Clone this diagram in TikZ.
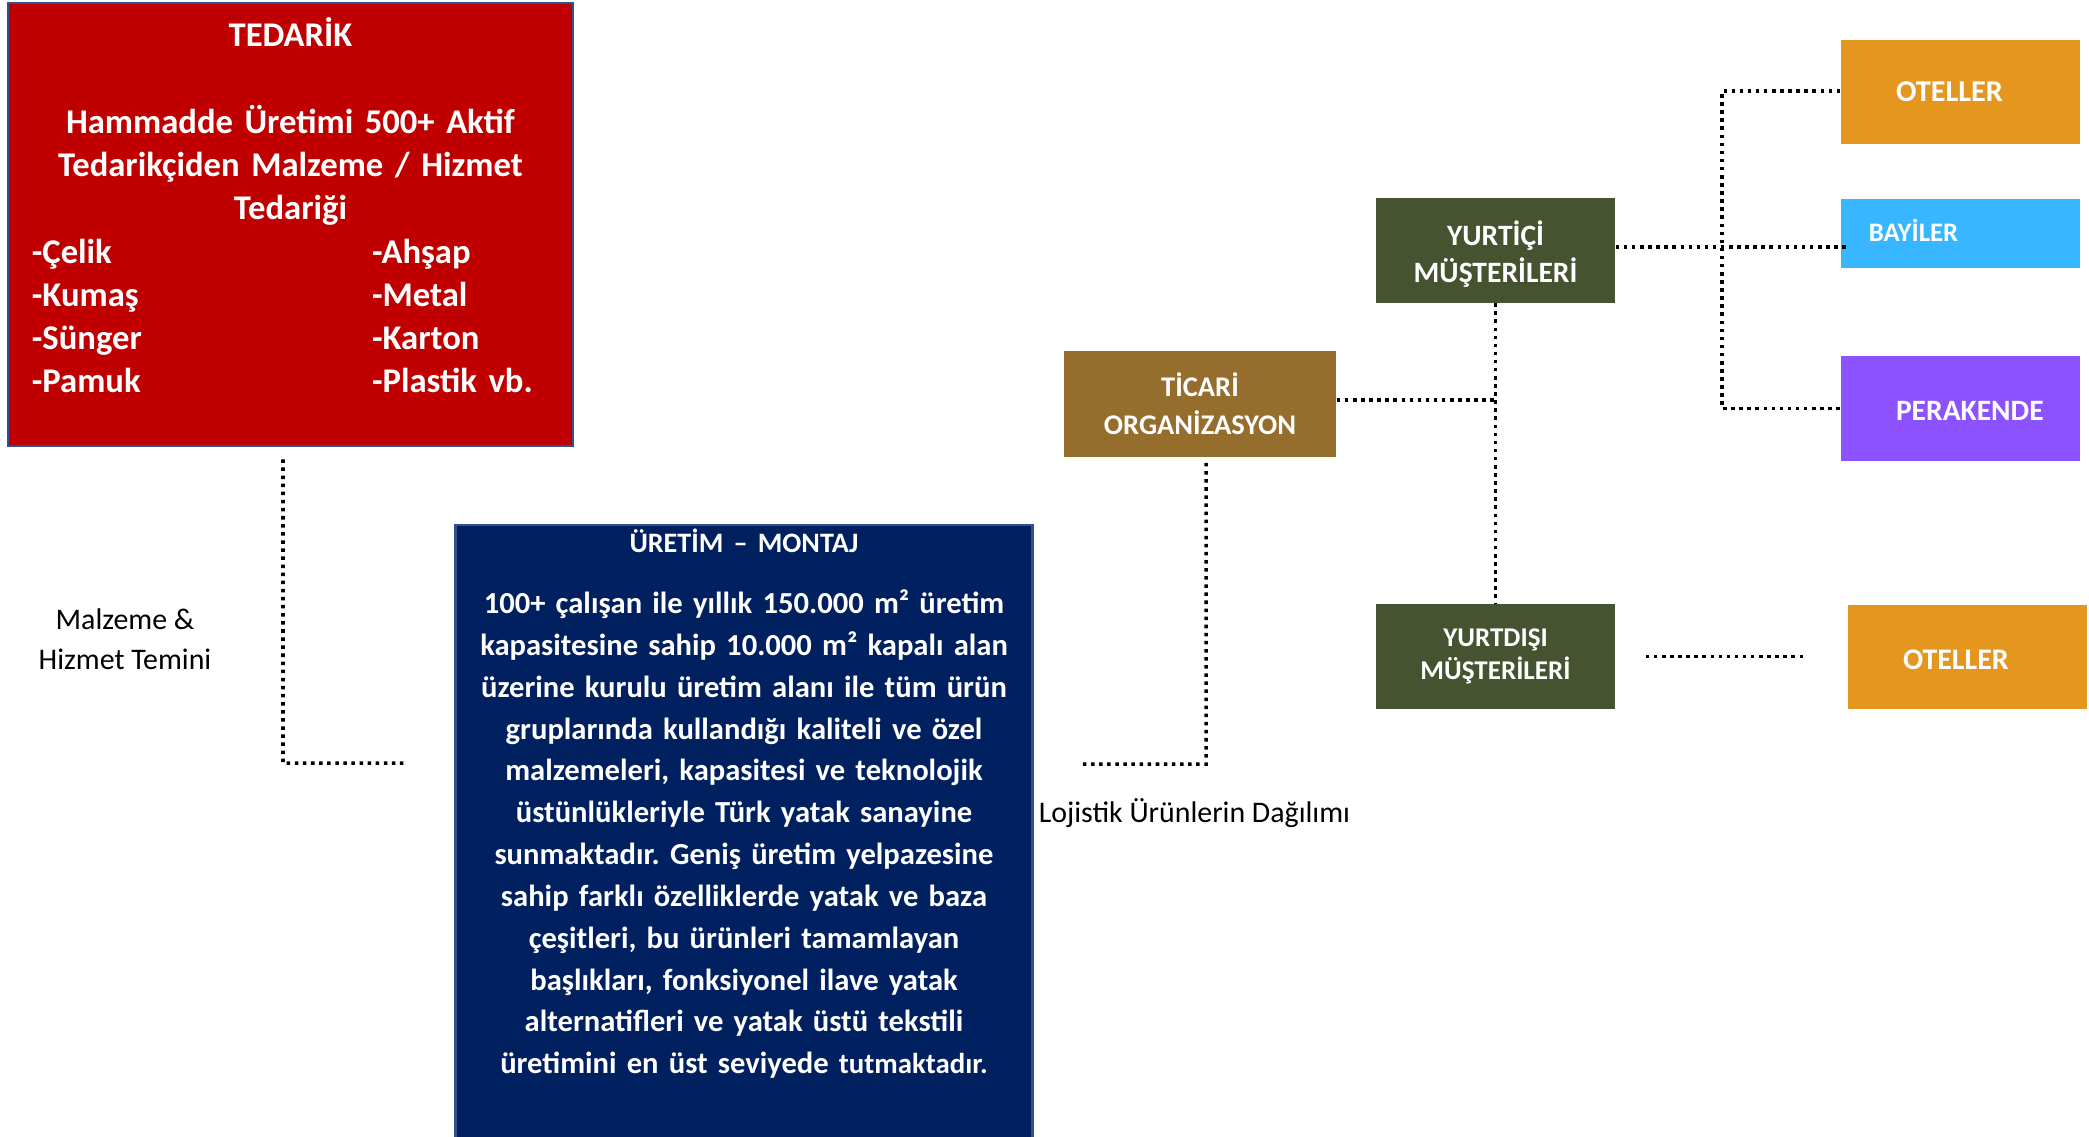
\documentclass[tikz,border=0pt]{standalone}
\usepackage{fontspec}
\setmainfont{Carlito}
\usepackage{xcolor}
\usepackage{tikz}
\usetikzlibrary{positioning}
\frenchspacing

\definecolor{kirmizi}{HTML}{C00000}
\definecolor{lacivert}{HTML}{002060}
\definecolor{cerceve}{HTML}{2F528F}
\definecolor{kahve}{HTML}{956D2D}
\definecolor{zeytin}{HTML}{455330}
\definecolor{turuncu}{HTML}{E5961E}
\definecolor{acikmavi}{HTML}{38B6FF}
\definecolor{mor}{HTML}{8C52FF}

\newcommand{\ikisutun}[2]{\makebox[5.17cm][l]{\makebox[3.4cm][l]{#1}#2}}
\newcommand{\fs}[2]{\fontsize{#1}{#2}\selectfont}
\newcommand{\altbosluk}[1]{\rule[-#1]{0pt}{#1}}
\newcommand{\ustbosluk}[1]{\rule{0pt}{#1}}

\begin{document}
\begin{tikzpicture}[
    x=0.01cm, y=-0.01cm,
    box/.style={rectangle, text=white, inner sep=0pt, align=center, font=\bfseries},
    kanal/.style={box, minimum height=1.04cm, text width=1.29cm, inner xsep=0.55cm, align=left},
    link/.style={line width=1pt, dash pattern=on 1pt off 1.3pt},
    etiket/.style={text=black, align=center, font=\fs{8.5}{11.4}},
]
\useasboundingbox (0,0) rectangle (2089,1136);

\node[box, fill=kirmizi, draw=cerceve, line width=0.7pt, minimum width=5.65cm, minimum height=4.43cm,
      text width=5.17cm, font=\bfseries\fs{9.85}{12.3}] (tedarik) at (290.5,224.5)
  {TEDARİK\\[12.3pt]
   Hammadde Üretimi 500+ Aktif\\
   Tedarikçiden Malzeme / Hizmet\\
   Tedariği\\
   \ikisutun{-Çelik}{-Ahşap}\\
   \ikisutun{-Kumaş}{-Metal}\\
   \ikisutun{-Sünger}{-Karton}\\
   \ikisutun{-Pamuk}{-Plastik vb.}\altbosluk{0.38cm}};

\node[box, fill=lacivert, draw=cerceve, line width=0.7pt, anchor=north, minimum width=5.77cm,
      text width=5.5cm, inner ysep=1pt, font=\bfseries\fs{8.7}{11.9}] (uretim) at (744,524)
  {{\fs{8}{9.6}ÜRETİM – MONTAJ}\\[5.5pt]
   100+ çalışan ile yıllık 150.000 m² üretim\\
   kapasitesine sahip 10.000 m² kapalı alan\\
   üzerine kurulu üretim alanı ile tüm ürün\\
   gruplarında kullandığı kaliteli ve özel\\
   malzemeleri, kapasitesi ve teknolojik\\
   üstünlükleriyle Türk yatak sanayine\\
   sunmaktadır. Geniş üretim yelpazesine\\
   sahip farklı özelliklerde yatak ve baza\\
   çeşitleri, bu ürünleri tamamlayan\\
   başlıkları, fonksiyonel ilave yatak\\
   alternatifleri ve yatak üstü tekstili\\
   üretimini en üst seviyede {\fs{8.2}{11.9}tutmaktadır.}\altbosluk{1cm}};

\node[box, fill=kahve, minimum width=2.72cm, minimum height=1.05cm, font=\bfseries\fs{8.1}{10.8}] (ticari) at (1200,404)
  {TİCARİ\\ORGANİZASYON};
\node[box, fill=zeytin, minimum width=2.39cm, minimum height=1.04cm, font=\bfseries\fs{8.4}{10.5}] (yurtici) at (1495.5,250.5)
  {\ustbosluk{8.9pt}YURTİÇİ\\MÜŞTERİLERİ};
\node[box, fill=zeytin, minimum width=2.39cm, minimum height=1.04cm, font=\bfseries\fs{7.7}{9.4}] (yurtdisi) at (1495.5,656.5)
  {YURTDIŞI\\MÜŞTERİLERİ};

\node[kanal, fill=turuncu, font=\bfseries\fs{8.6}{10}] (oteller) at (1960.5,92) {OTELLER};
\node[kanal, fill=acikmavi, minimum height=0.69cm, text width=1.83cm, inner xsep=0.28cm, font=\bfseries\fs{7.6}{9}] (bayiler) at (1960.5,233.5) {BAYİLER\altbosluk{1.6pt}};
\node[kanal, fill=mor, minimum height=1.05cm, font=\bfseries\fs{8.4}{10}] (perakende) at (1960.5,408.5) {\ustbosluk{7.1pt}PERAKENDE};
\node[kanal, fill=turuncu, font=\bfseries\fs{8.5}{10}] (otellerdis) at (1967.5,657) {\ustbosluk{7.2pt}OTELLER};

\node[etiket] (malzeme) at (125,639) {Malzeme \&\\Hizmet Temini};
\node[etiket] (lojistik) at (1194.5,813) {Lojistik Ürünlerin Dağılımı};

% tedarik -> uretim
\coordinate (malzemeKose) at (283,763);
\draw[link] ([xshift=-0.075cm,yshift=-0.12cm]tedarik.south) -- (malzemeKose) -- ([xshift=-0.47cm]uretim.west |- malzemeKose);

% uretim -> ticari
\coordinate (lojistikKose) at (1206,764);
\draw[link] ([xshift=0.49cm]uretim.east |- lojistikKose) -- (lojistikKose) -- ([xshift=0.06cm,yshift=-0.05cm]ticari.south);

% ticari -> musteriler
\coordinate (ticariDal) at (1495,400);
\draw[link] (ticari.east |- ticariDal) -- (ticariDal);
\draw[link] (yurtici.south) -- (yurtdisi.north);

% yurtici -> kanallar
\coordinate (yurticiDal) at (1722,247);
\draw[link] (yurtici.east |- yurticiDal) -- ([xshift=0.07cm]bayiler.west |- yurticiDal);
\draw[link] (oteller.west |- 0,91) -- (yurticiDal |- 0,91) -- (yurticiDal |- perakende.west) -- (perakende.west);

% yurtdisi -> oteller
\draw[link] ([xshift=0.3cm]yurtdisi.east) -- ([xshift=-0.42cm]otellerdis.west |- yurtdisi.east);

\end{tikzpicture}
\end{document}
